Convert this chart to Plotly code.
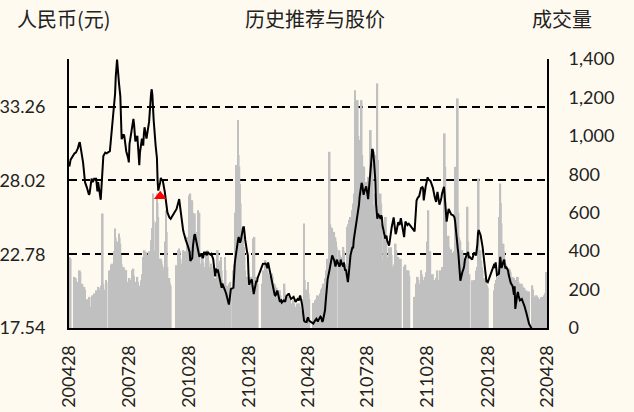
import pandas as pd
import plotly.graph_objects as go

# ---------------- data ----------------
# Shanghai/Shenzhen exchange weekday holidays in the period
holidays = [
    "2020-05-01", "2020-05-04", "2020-05-05", "2020-06-25", "2020-06-26",
    "2020-10-01", "2020-10-02", "2020-10-05", "2020-10-06", "2020-10-07", "2020-10-08",
    "2021-01-01", "2021-02-11", "2021-02-12", "2021-02-15", "2021-02-16", "2021-02-17",
    "2021-04-05", "2021-05-03", "2021-05-04", "2021-05-05", "2021-06-14",
    "2021-09-20", "2021-09-21", "2021-10-01", "2021-10-04", "2021-10-05", "2021-10-06", "2021-10-07",
    "2022-01-03", "2022-01-31", "2022-02-01", "2022-02-02", "2022-02-03", "2022-02-04",
    "2022-04-04", "2022-04-05",
]

months = ["2020-04", "2020-05", "2020-06", "2020-07", "2020-08", "2020-09", "2020-10",
          "2020-11", "2020-12", "2021-01", "2021-02", "2021-03", "2021-04", "2021-05",
          "2021-06", "2021-07", "2021-08", "2021-09", "2021-10", "2021-11", "2021-12",
          "2022-01", "2022-02", "2022-03", "2022-04"]

# daily closing price (RMB), one list per month
price_2020 = [
    [29.0, 29.3, 29.5],
    [29.95, 30.0, 30.0, 30.3, 30.55, 30.65, 30.75, 30.5, 29.6, 29.3, 28.85, 28.3, 27.9, 27.5, 27.35, 27.2, 27.0, 27.1],
    [28.16, 28.0, 27.95, 28.0, 28.15, 28.15, 27.8, 27.25, 27.9, 27.6, 26.65, 27.4, 28.4, 29.3, 29.75, 30.0, 30.0, 29.95, 30.1, 30.6],
    [31.4, 31.7, 31.85, 33.5, 34.2, 35.4, 36.1, 36.6, 34.9, 34.6, 34.0, 32.5, 30.95, 31.3, 31.2, 30.85, 30.5, 30.1, 29.6, 29.3, 30.6, 30.9, 31.2],
    [32.3, 32.4, 32.0, 31.3, 30.8, 31.2, 30.4, 29.6, 29.1, 30.0, 31.0, 30.8, 30.5, 31.3, 31.8, 31.0, 31.4, 31.6, 32.0, 32.2, 34.2],
    [34.5, 34.1, 33.1, 32.3, 30.5, 30.2, 29.6, 28.0, 27.3, 27.9, 28.2, 28.1, 28.05, 28.0, 27.2, 26.7, 26.3, 25.9, 25.75, 25.4, 25.35, 25.3],
    [26.0, 26.55, 26.7, 26.3, 25.85, 25.5, 24.5, 24.3, 24.1, 23.9, 23.8, 23.4, 23.2, 22.95, 22.95, 22.3],
    [22.5, 23.3, 23.9, 24.1, 24.2, 23.5, 23.2, 22.9, 22.7, 22.6, 22.8, 22.7, 22.5, 22.6, 22.9, 22.9, 22.7, 22.8, 22.95, 22.85, 22.75],
    [22.8, 22.7, 22.55, 22.45, 21.2, 21.76, 21.6, 21.5, 21.7, 21.1, 21.0, 20.6, 20.4, 20.7, 20.4, 20.25, 20.1, 19.95, 19.8, 19.2, 19.5, 19.9, 20.3],
]
price_2021 = [
    [20.4, 21.7, 22.1, 22.5, 22.9, 23.8, 24.0, 23.8, 23.6, 23.7, 24.6, 24.7, 24.7, 24.2, 23.8, 22.9, 22.7, 21.4, 20.6, 20.75],
    [21.0, 20.6, 20.2, 19.95, 20.2, 20.9, 20.8, 21.1, 22.1, 22.1, 22.12, 22.05, 21.9, 21.8, 22.2],
    [21.5, 21.1, 20.8, 20.6, 20.5, 19.9, 19.85, 19.9, 20.1, 20.2, 19.6, 19.4, 19.45, 19.5, 19.35, 19.5, 19.45, 19.4, 19.6, 19.8, 19.95, 19.95, 19.8],
    [19.7, 19.6, 19.75, 19.6, 19.45, 19.4, 19.6, 19.55, 19.5, 19.7, 19.85, 19.2, 18.6, 18.2, 18.05, 18.0, 17.97, 18.2, 18.3, 18.15, 18.05],
    [17.85, 17.95, 18.15, 18.2, 18.1, 18.0, 18.1, 18.35, 18.3, 18.1, 17.97, 18.1, 18.8, 19.4, 19.9, 20.5, 21.0, 21.7],
    [21.9, 22.2, 22.5, 22.7, 22.35, 22.2, 21.9, 22.1, 22.4, 21.9, 22.0, 22.4, 22.2, 21.9, 22.2, 21.8, 21.6, 21.7, 20.8, 21.2, 21.9],
    [22.3, 22.7, 23.3, 23.2, 23.8, 24.1, 24.4, 25.3, 25.5, 25.8, 26.3, 26.9, 27.85, 27.7, 27.3, 27.0, 27.2, 27.6, 27.3, 26.9, 26.7, 27.3],
    [28.6, 29.5, 30.2, 30.2, 30.0, 28.0, 26.4, 25.45, 25.3, 25.65, 25.45, 25.3, 25.55, 25.4, 24.8, 24.0, 23.9, 24.0, 24.1, 23.75, 23.4, 23.7],
    [24.1, 24.4, 24.7, 25.4, 24.95, 24.5, 24.2, 24.35, 25.05, 24.95, 24.85, 25.1, 25.35, 24.0, 24.6, 25.1, 24.85, 24.9, 24.95, 24.9],
    [24.4, 26.6, 26.75, 26.8, 26.85, 26.9, 27.5, 27.55, 27.55, 27.45, 26.6, 27.6, 27.9, 28.1, 28.25, 28.1],
    [28.0, 27.9, 27.8, 27.7, 27.5, 26.8, 26.6, 26.5, 26.9, 27.2, 26.3, 26.4, 26.6, 26.8, 27.1, 27.57, 27.0, 26.6, 25.5, 25.1, 26.0, 25.9],
    [25.85, 25.75, 25.6, 25.55, 25.5, 25.4, 25.1, 24.5, 23.2, 22.8, 21.8, 21.1, 20.9, 21.5, 21.6, 21.76, 22.0, 22.4, 22.8, 22.9, 22.94, 22.5, 22.6],
]
price_2022 = [
    [22.4, 22.6, 22.8, 22.9, 22.7, 23.0, 23.5, 24.3, 24.5, 24.13, 23.9, 23.7, 23.3, 22.9, 21.5, 21.0, 20.8, 20.85, 20.8],
    [22.1, 21.8, 22.2, 21.8, 21.3, 21.4, 21.8, 22.6, 22.2, 21.8, 22.3, 22.4, 22.0, 21.76, 21.9, 21.6],
    [21.3, 21.1, 20.9, 20.75, 20.5, 20.2, 19.9, 20.5, 18.9, 19.9, 20.1, 19.85, 19.6, 19.5, 19.6, 19.5, 19.4, 19.25, 19.1, 18.6, 18.44, 18.25, 18.05],
    [17.85, 17.4, 17.1, 16.9, 16.7, 16.5, 16.6, 16.4, 16.3, 16.2, 16.4, 16.3, 16.1, 16.0, 15.9, 15.8, 15.9, 15.7],
]

# daily volume, one list per month
volume_2020 = [
    [370, 365, 360],
    [266, 250, 260, 240, 200, 270, 300, 290, 230, 210, 196, 214, 200, 110, 150, 144, 150, 162],
    [110, 170, 162, 165, 180, 196, 127, 190, 214, 210, 196, 220, 231, 596, 230, 200, 250, 240, 300, 290],
    [318, 330, 335, 400, 518, 470, 448, 450, 492, 470, 439, 380, 335, 318, 310, 301, 300, 301, 231, 240, 260, 214, 250],
    [301, 309, 270, 231, 240, 266, 240, 214, 220, 214, 248, 280, 335, 370, 405, 396, 380, 327, 340, 400, 448],
    [457, 520, 700, 560, 405, 550, 700, 650, 578, 335, 361, 350, 330, 318, 301, 450, 613, 500, 318, 260, 231, 220],
    [327, 405, 414, 400, 360, 335, 405, 370, 340, 327, 400, 474, 301, 400, 690, 700],
    [665, 600, 578, 560, 596, 439, 500, 613, 560, 600, 335, 350, 370, 340, 318, 370, 380, 405, 390, 350, 318],
    [335, 320, 300, 283, 248, 260, 248, 300, 405, 335, 350, 370, 300, 250, 231, 370, 300, 214, 220, 196, 231, 240, 196],
]
volume_2021 = [
    [300, 318, 330, 600, 848, 1082, 900, 839, 750, 648, 520, 474, 420, 370, 300, 266, 220, 196, 214, 220],
    [266, 200, 196, 466, 474, 266, 250, 231, 231, 300, 353, 335, 320, 300, 283],
    [266, 270, 266, 283, 270, 231, 220, 196, 210, 180, 144, 196, 170, 127, 150, 144, 231, 180, 144, 160, 162, 150, 144],
    [144, 127, 144, 127, 110, 92, 127, 120, 127, 127, 110, 75, 92, 150, 544, 250, 200, 150, 240, 180, 150],
    [120, 130, 144, 150, 160, 170, 165, 180, 190, 200, 210, 230, 240, 260, 300, 320, 360, 917],
    [540, 526, 510, 520, 500, 474, 470, 450, 420, 405, 380, 335, 370, 422, 400, 292, 318, 330, 526, 540, 561],
    [561, 578, 613, 600, 648, 700, 1238, 1065, 1186, 1000, 978, 880, 1186, 900, 822, 840, 839, 752, 760, 752, 780, 787],
    [1030, 900, 856, 850, 640, 700, 720, 900, 1273, 874, 665, 700, 648, 500, 353, 474, 520, 578, 450, 370, 405, 420],
    [400, 420, 380, 318, 330, 350, 439, 405, 370, 330, 318, 340, 360, 300, 320, 330, 300, 280, 300, 270],
    [162, 231, 240, 266, 250, 231, 301, 280, 266, 231, 250, 266, 290, 318, 450, 613],
    [400, 248, 260, 266, 280, 250, 231, 240, 260, 300, 250, 280, 300, 280, 318, 509, 1013, 839, 600, 474, 480, 420],
    [405, 405, 410, 390, 370, 400, 839, 700, 1195, 600, 474, 460, 450, 405, 380, 350, 335, 360, 370, 631, 450, 266, 280],
]
volume_2022 = [
    [248, 240, 231, 250, 266, 300, 318, 400, 778, 405, 350, 318, 300, 260, 250, 260, 231, 220, 210],
    [196, 220, 231, 250, 266, 578, 400, 752, 650, 544, 439, 400, 360, 335, 330, 310],
    [301, 310, 300, 290, 266, 250, 260, 240, 250, 231, 266, 240, 231, 220, 231, 220, 200, 196, 210, 196, 180, 190, 179],
    [190, 222, 200, 170, 162, 160, 170, 150, 160, 144, 150, 160, 162, 150, 170, 180, 290, 292],
]

# recommendation marker
rec_dates = ["2020-09-14"]
rec_prices = [26.9]

# axis ticks
x_tick_dates = ["2020-04-28", "2020-07-28", "2020-10-28", "2021-01-28", "2021-04-28",
                "2021-07-28", "2021-10-28", "2022-01-28", "2022-04-28"]
x_tick_labels = ["200428", "200728", "201028", "210128", "210428",
                 "210728", "211028", "220128", "220428"]
price_ticks = [17.54, 22.78, 28.02, 33.26]
price_tick_labels = ["17.54", "22.78", "28.02", "33.26"]

# ---------------- build series ----------------
days = pd.bdate_range("2020-04-28", "2022-04-28", freq="C", holidays=holidays)
price_months = price_2020 + price_2021 + price_2022
volume_months = volume_2020 + volume_2021 + volume_2022

dates, prices, volumes = [], [], []
for m, pl, vl in zip(months, price_months, volume_months):
    md = [d for d in days if d.strftime("%Y-%m") == m]
    for d, p, v in zip(md, pl, vl):
        dates.append(d)
        prices.append(p)
        volumes.append(v)

DAY_MS = 86400000
num_font = dict(family="Lato, 'Open Sans', sans-serif", size=18, color="#222222")
cjk_font = dict(family="'Noto Sans CJK SC', sans-serif", size=20, color="#222222")
bg = "#FFFAF0"

fig = go.Figure()
fig.add_trace(go.Bar(
    x=dates, y=volumes, yaxis="y", width=[2.8 * DAY_MS] * len(dates),
    marker=dict(color="#C0C0C0", line=dict(width=0)), hoverinfo="skip",
))
fig.add_trace(go.Scatter(
    x=dates, y=prices, yaxis="y2", mode="lines",
    line=dict(color="black", width=2), hoverinfo="skip",
))
fig.add_trace(go.Scatter(
    x=pd.to_datetime(rec_dates), y=rec_prices, yaxis="y2", mode="markers",
    marker=dict(symbol="triangle-up", color="#FF0000", size=11, line=dict(width=0)),
    hoverinfo="skip",
))

fig.update_layout(
    width=634, height=412,
    margin=dict(l=69, r=87, t=59, b=84, autoexpand=False),
    paper_bgcolor=bg, plot_bgcolor=bg,
    showlegend=False,
    xaxis=dict(
        type="date",
        range=["2020-04-27 12:00", "2022-04-28 12:00"],
        tickvals=pd.to_datetime(x_tick_dates), ticktext=x_tick_labels,
        tickangle=-90, tickfont=num_font, ticks="",
        showline=True, linecolor="black", linewidth=2,
        showgrid=False, zeroline=False, ticklabelstandoff=8,
        automargin=False,
    ),
    yaxis=dict(
        side="right", range=[0, 1400], dtick=200, tickformat=",",
        tickfont=num_font, ticks="", showgrid=False, zeroline=False,
        showline=True, linecolor="black", linewidth=2,
        ticklabelstandoff=16, automargin=False,
    ),
    yaxis2=dict(
        overlaying="y", side="left", range=[17.54, 36.65],
        tickvals=price_ticks, ticktext=price_tick_labels,
        tickfont=num_font, ticks="", zeroline=False,
        showgrid=True, gridcolor="black", gridwidth=2, griddash="8px,5px",
        showline=True, linecolor="black", linewidth=2,
        ticklabelstandoff=18, automargin=False,
    ),
    annotations=[
        dict(text="人民币(元)", xref="paper", yref="paper", x=-0.0115, y=1.149,
             xanchor="center", yanchor="middle", showarrow=False, font=cjk_font),
        dict(text="历史推荐与股价", xref="paper", yref="paper", x=0.515, y=1.149,
             xanchor="center", yanchor="middle", showarrow=False, font=cjk_font),
        dict(text="成交量", xref="paper", yref="paper", x=1.032, y=1.149,
             xanchor="center", yanchor="middle", showarrow=False, font=cjk_font),
    ],
)

fig.write_html(
    "out.html",
    config={"displayModeBar": False},
    post_script="document.body.style.margin='0';document.body.style.background='" + bg + "';",
)
